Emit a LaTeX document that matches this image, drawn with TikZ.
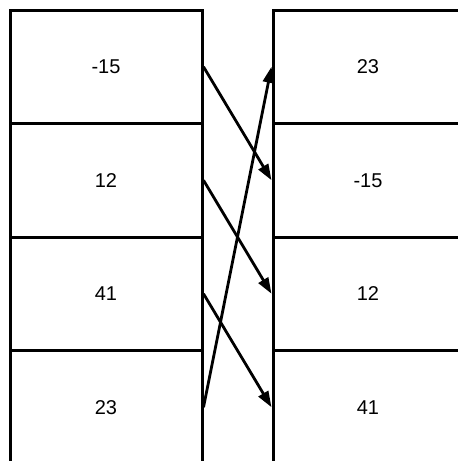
\documentclass[tikz,border=0pt]{standalone}
\usepackage{fontspec}
\setmainfont{Liberation Sans}
\usetikzlibrary{arrows.meta}
\tikzset{
  cell/.style={draw=black, line width=3pt, minimum width=192pt, minimum height=113.5pt,
               inner sep=0pt, font=\fontsize{20}{22}\selectfont},
  flow/.style={-{Triangle[length=16pt,width=11pt]}, line width=2.8pt},
}
\begin{document}
\begin{tikzpicture}[x=1pt,y=-1pt]
  \useasboundingbox (0,0) rectangle (458,461);
  \clip (0,0) rectangle (458,461);
  \foreach \i/\a/\b in {1/-15/23, 2/12/-15, 3/41/12, 4/23/41} {
    \node[cell] (l\i) at (106, 113.5*\i-46.75) {\a};
    \node[cell, minimum width=190pt] (r\i) at (368, 113.5*\i-46.75) {\b};
  }
  \draw[flow] (l1.east) -- (r2.west);
  \draw[flow] (l2.east) -- (r3.west);
  \draw[flow] (l3.east) -- (r4.west);
  \draw[flow] (l4.east) -- (r1.west);
\end{tikzpicture}
\end{document}
